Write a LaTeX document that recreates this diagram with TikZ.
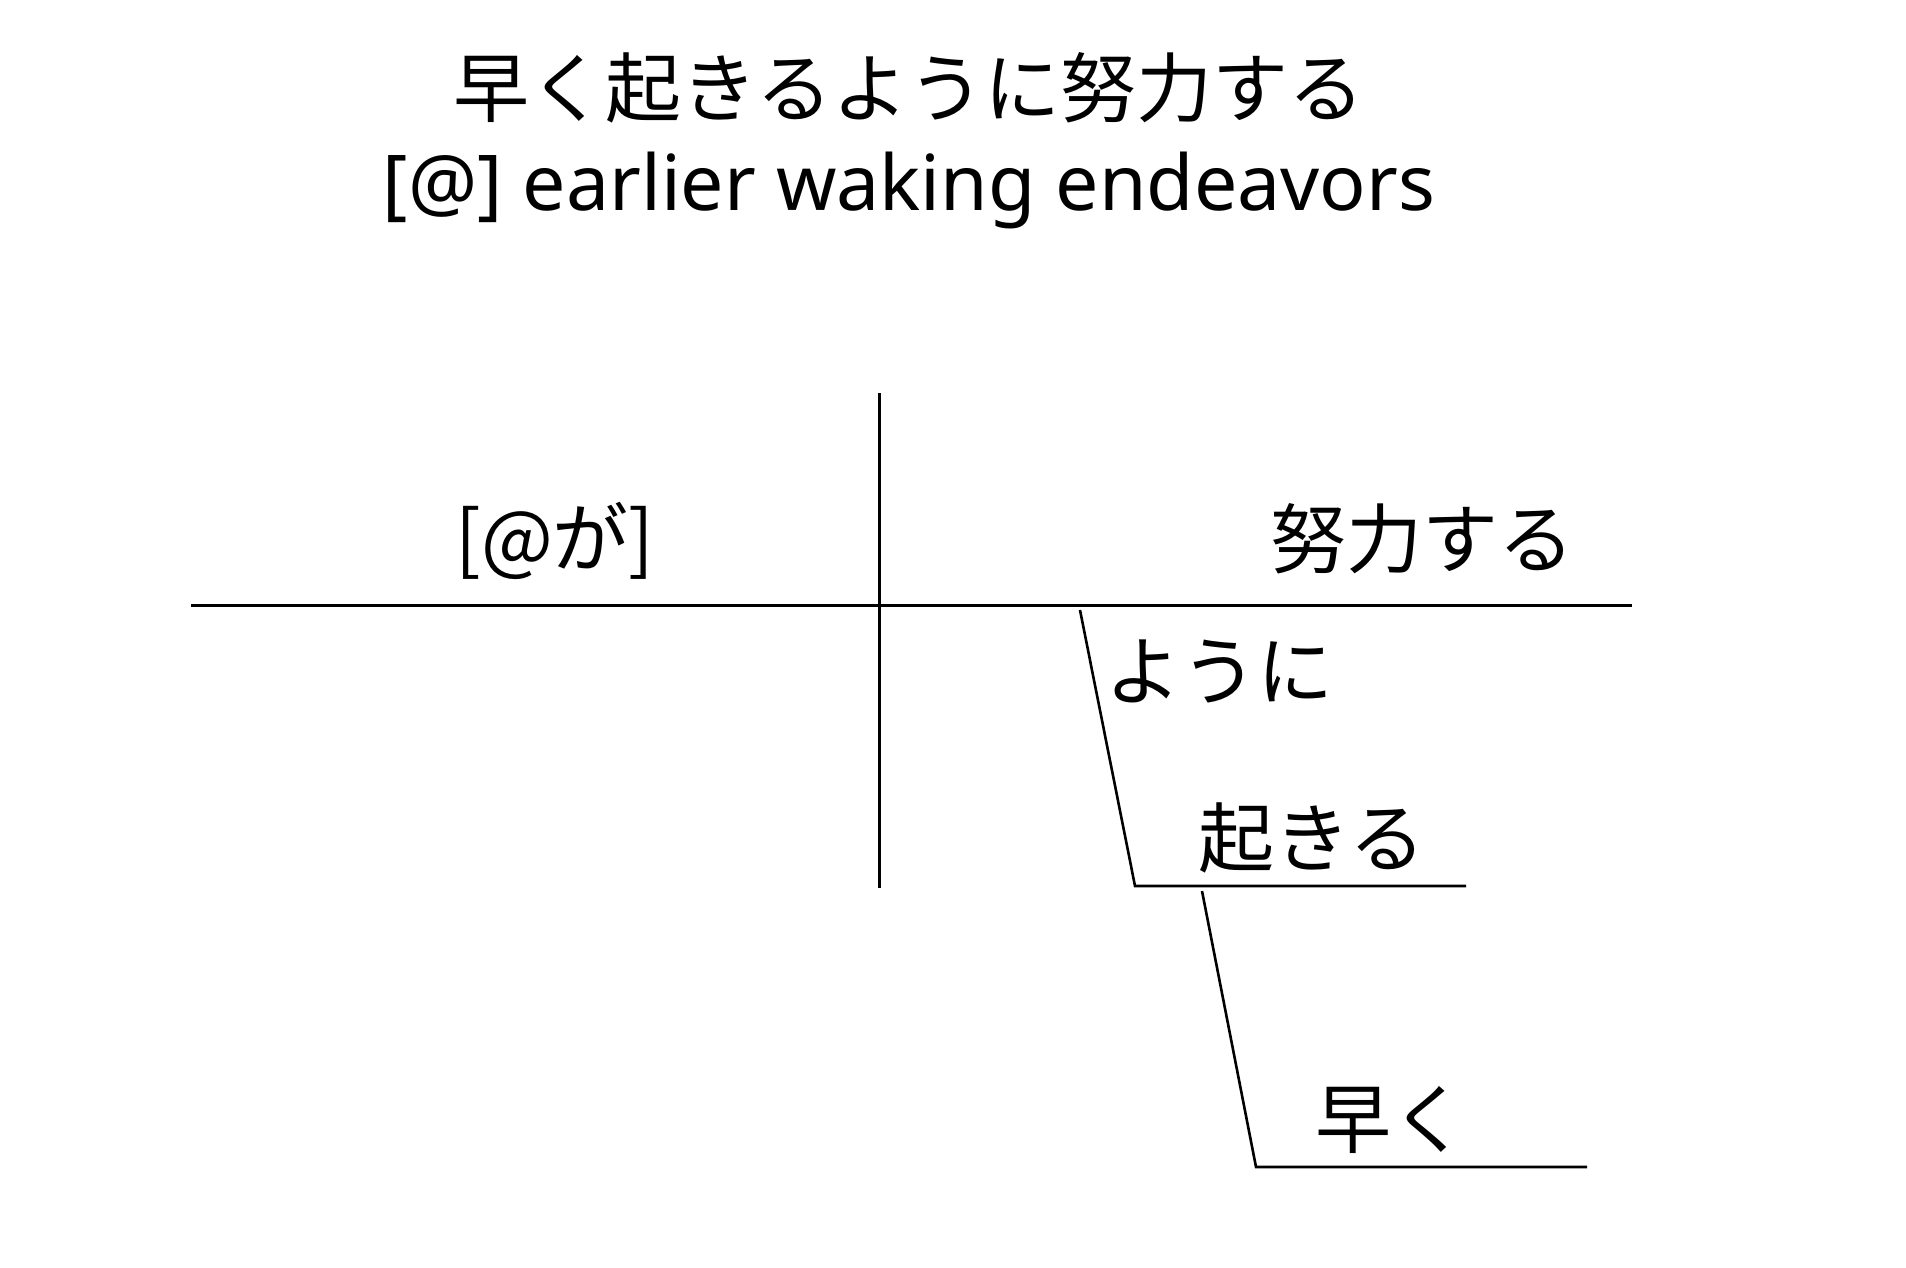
\documentclass[tikz,border=0pt]{standalone}
\usepackage{fontspec}
\setmainfont{Noto Sans CJK JP}
\newfontfamily\latinfont{Noto Sans}
\usepackage{tikz}

\tikzset{
	word/.style={anchor=base,inner sep=0pt,font=\fontsize{76}{90}\selectfont},
	rule/.style={line width=2.6pt},
}

\begin{document}
\begin{tikzpicture}[x=1pt,y=-1pt]
						\useasboundingbox (0,0) rectangle (1906,1268);
						% Title lines
						\node[word] (title) at (909,117) {早く起きるように努力する};
						\node[word,font=\latinfont\fontsize{77}{90}\selectfont] (gloss) at (909,211) {[@] earlier waking endeavors};
						
						% Define the ends of the base line and the divider
						\coordinate (L) at (191,605);
						\coordinate (R) at (1632,605);
						\coordinate (Top) at (879,393);
						\coordinate (Bot) at (879,888);
						
						% Define the ends of the modifier lines
						\coordinate (A) at (1080,610);
						\coordinate (B) at (1135,886);
						\coordinate (C) at (1466,886);
						\coordinate (D) at (1202,891);
						\coordinate (E) at (1256,1167);
						\coordinate (F) at (1587,1167);
						
						% Words
						\node[word] (subj) at (555,566) {[@が]};
						\node[word] (verb) at (1422,567) {努力する};
						\node[word] (youni) at (1219,699) {ように};
						\node[word] (okiru) at (1312,866) {起きる};
						\node[word] (hayaku) at (1391,1147) {早く};
						
						% Draw the lines
						\draw[rule,line width=3pt] (L) -- (R);
						\draw[rule,line width=3pt] (Top) -- (Bot);
						\draw[rule] (A) -- (B) -- (C);
						\draw[rule] (D) -- (E) -- (F);
					\end{tikzpicture}
\end{document}
